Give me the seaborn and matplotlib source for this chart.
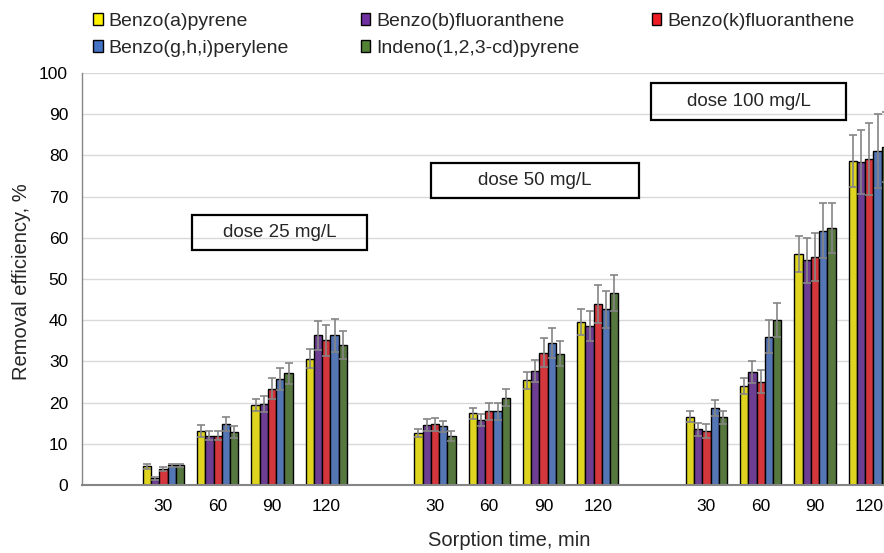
import numpy as np
import pandas as pd
import matplotlib
matplotlib.use("Agg")
import matplotlib.pyplot as plt
import seaborn as sns
from matplotlib.patches import Rectangle, Patch

# ---------------- data ----------------
compounds = ["Benzo(a)pyrene", "Benzo(b)fluoranthene", "Benzo(k)fluoranthene",
             "Benzo(g,h,i)perylene", "Indeno(1,2,3-cd)pyrene"]
colors = ["#FFF200", "#7030A0", "#ED1C24", "#4472C4", "#548235"]
doses = [25, 50, 100]
times = [30, 60, 90, 120]
dose_labels = ["dose 25 mg/L", "dose 50 mg/L", "dose 100 mg/L"]

# removal efficiency, %  rows = sorption time, cols = compound
mean_25 = [[4.5, 1.6, 3.9, 4.8, 4.8],
           [13.1, 12.0, 12.0, 14.7, 12.9],
           [19.4, 19.7, 23.4, 25.7, 27.1],
           [30.7, 36.3, 35.1, 36.3, 34.1]]
sd_25 = [[0.6, 0.3, 0.4, 0.4, 0.4],
         [1.4, 1.0, 1.0, 1.7, 1.5],
         [1.5, 2.0, 2.5, 2.7, 2.5],
         [2.4, 3.6, 3.7, 4.0, 3.4]]
mean_50 = [[12.7, 14.5, 14.7, 14.2, 12.0],
           [17.4, 15.7, 17.9, 17.9, 21.2],
           [25.4, 27.7, 32.1, 34.4, 31.9],
           [39.6, 38.6, 43.9, 42.6, 46.6]]
sd_50 = [[1.0, 1.4, 1.5, 1.4, 1.2],
         [1.4, 1.5, 2.1, 2.1, 2.0],
         [2.0, 2.7, 3.5, 3.6, 3.1],
         [3.2, 3.7, 4.6, 4.4, 4.4]]
mean_100 = [[16.6, 13.5, 13.1, 18.7, 16.4],
            [24.1, 27.4, 25.1, 36.0, 40.0],
            [56.0, 54.5, 55.3, 61.7, 62.3],
            [78.6, 78.4, 79.1, 81.1, 82.0]]
sd_100 = [[1.3, 1.5, 1.6, 1.9, 1.5],
          [1.9, 2.7, 2.8, 4.0, 4.1],
          [4.4, 5.5, 5.9, 6.7, 6.1],
          [6.3, 7.8, 8.8, 8.9, 8.5]]

means = {25: mean_25, 50: mean_50, 100: mean_100}
sds = {25: sd_25, 50: sd_50, 100: sd_100}

rows = []
for d in doses:
    for ti, t in enumerate(times):
        for ci, c in enumerate(compounds):
            rows.append({"cat": f"{d}-{t}", "compound": c,
                         "value": means[d][ti][ci], "sd": sds[d][ti][ci]})
df = pd.DataFrame(rows)

order = []
tick_labels = []
for d in doses:
    order.append(f"gap{d}")
    tick_labels.append("")
    for t in times:
        order.append(f"{d}-{t}")
        tick_labels.append(str(t))

# ---------------- figure ----------------
sns.set_style("white")
plt.rcParams["font.family"] = ["Liberation Sans", "DejaVu Sans"]

W, H = 884, 553
fig = plt.figure(figsize=(W / 100, H / 100), dpi=100)
ax_l, ax_r, ax_t, ax_b = 82, 884, 73, 485
ax = fig.add_axes([ax_l / W, 1 - ax_b / H, (ax_r - ax_l) / W, (ax_b - ax_t) / H])

sns.barplot(data=df, x="cat", y="value", hue="compound", order=order,
            hue_order=compounds, palette=colors, width=0.76,
            edgecolor="black", linewidth=1.0, errorbar=None, legend=False,
            ax=ax)

# error bars from the drawn bars
sd_lookup = {(r.cat, r.compound): r.sd for r in df.itertuples()}
for cont, comp in zip(list(ax.containers), compounds):
    xs, ys, es = [], [], []
    for bar in cont:
        xc = bar.get_x() + bar.get_width() / 2
        cat = order[int(round(xc))]
        xs.append(xc)
        ys.append(bar.get_height())
        es.append(sd_lookup[(cat, comp)])
    ax.errorbar(xs, ys, yerr=es, fmt="none", ecolor="#858585",
                elinewidth=1.2, capsize=3, capthick=1.2, zorder=3)

ax.set_ylim(0, 100)
ax.set_yticks(np.arange(0, 101, 10))
ax.set_xlim(-0.5, -0.5 + (ax_r - ax_l) / 54.3)
ax.set_xticks(range(len(order)))
ax.set_xticklabels(tick_labels)
ax.tick_params(axis="both", length=0, labelsize=12.5, colors="black")
ax.tick_params(axis="y", pad=10)
ax.tick_params(axis="x", pad=10)

ax.yaxis.grid(True, color="#d9d9d9", linewidth=1.0)
ax.set_axisbelow(True)
for s in ["top", "right"]:
    ax.spines[s].set_visible(False)
ax.spines["left"].set_color("#868686")
ax.spines["left"].set_linewidth(1.0)
ax.spines["bottom"].set_color("#868686")
ax.spines["bottom"].set_linewidth(1.5)

ax.set_xlabel("Sorption time, min", fontsize=14.5)
ax.set_ylabel("Removal efficiency, %", fontsize=14.5)
ax.xaxis.set_label_coords((509 - ax_l) / (ax_r - ax_l), -(531 - ax_b) / (ax_b - ax_t))
ax.yaxis.set_label_coords((31 - ax_l) / (ax_r - ax_l), (ax_b - 281.5) / (ax_b - ax_t))

# dose boxes
boxes = [(192, 367, 215, 250), (431, 639, 163, 198), (651, 846, 83, 120)]
for (x0, x1, y0, y1), lab in zip(boxes, dose_labels):
    fig.patches.append(Rectangle((x0 / W, 1 - y1 / H), (x1 - x0) / W, (y1 - y0) / H,
                                 transform=fig.transFigure, fill=False,
                                 edgecolor="black", linewidth=1.6))
    fig.text((x0 + x1) / 2 / W, 1 - (y0 + y1) / 2 / H, lab, ha="center",
             va="center", fontsize=13.5)

# legend
handles = [Patch(facecolor=c, edgecolor="black", linewidth=1.0) for c in colors]
idx = [0, 3, 1, 4, 2]
fig.legend([handles[i] for i in idx], [compounds[i] for i in idx],
           loc="upper left", bbox_to_anchor=(89 / W, 1 - 9 / H), ncol=3,
           frameon=False, fontsize=14, handlelength=0.5, handleheight=0.6,
           handletextpad=0.3, columnspacing=3.7, labelspacing=0.5,
           borderaxespad=0, borderpad=0.2)

fig.savefig("out.png", dpi=100)
